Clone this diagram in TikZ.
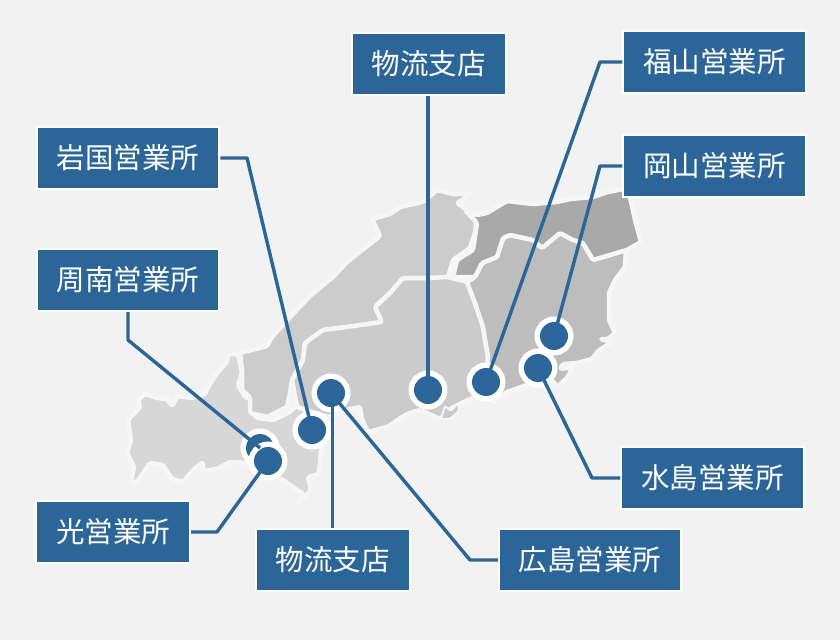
\documentclass[tikz,border=0pt]{standalone}
\usepackage{fontspec}
\newfontfamily\cjk{Noto Sans CJK JP}
\definecolor{sea}{HTML}{F2F2F2}
\definecolor{coast}{HTML}{F6F6F6}
\definecolor{navy}{HTML}{2C6699}
\definecolor{yamaguchi}{HTML}{D7D7D7}
\definecolor{shimane}{HTML}{CCCCCC}
\definecolor{hiroshima}{HTML}{CBCBCB}
\definecolor{okayama}{HTML}{BDBDBD}
\definecolor{tottori}{HTML}{A9A9A9}
\begin{document}
\begin{tikzpicture}[x=1pt,y=-1pt,
    area/.style = {draw=coast, line width=4.5pt, line join=round, rounded corners=1.5pt},
    office/.style = {draw=white, line width=2pt, fill=navy, text=white, minimum height=62pt, inner xsep=20pt, font=\cjk\fontsize{28.5pt}{30pt}\selectfont},
    dot/.style = {circle, preaction={draw=white, line width=11pt}, fill=navy, minimum size=28pt, inner sep=0pt, outer sep=0pt},
    link/.style = {draw=navy, line width=3.4pt, line join=round}]
    \useasboundingbox[fill=sea] (0,0) rectangle (840,640);

    % map
    \fill[area, fill=yamaguchi] (128,420) -- (140,407) -- (138,400) -- (145,394) -- (157,398) -- (167,399) -- (172,406) -- (178,396) -- (192,398) -- (205,394) -- (208,387) -- (217,373) -- (227,362) -- (228,354) -- (238,354) -- (242,373) -- (238,385) -- (245,397) -- (253,400) -- (250,410) -- (257,418) -- (273,420) -- (290,412) -- (297,405) -- (322,420) -- (321,450) -- (319,474) -- (308,477) -- (311,490) -- (297,505) -- (303,493) -- (297,490) -- (283,480) -- (267,473) -- (253,463) -- (230,462) -- (217,469) -- (203,471) -- (203,462) -- (193,470) -- (183,482) -- (172,479) -- (163,465) -- (150,463) -- (137,482) -- (131,482) -- (134,467) -- (127,453) -- (131,440) -- cycle;
    \fill[area, fill=shimane] (240,353) -- (267,346) -- (272,337) -- (293,314) -- (310,296) -- (333,277) -- (347,262) -- (380,236) -- (372,219) -- (390,214) -- (400,207) -- (423,202) -- (437,190) -- (453,194) -- (472,194) -- (457,203) -- (477,217) -- (475,233) -- (470,248) -- (453,260) -- (448,277) -- (430,278) -- (403,278) -- (390,293) -- (375,307) -- (382,322) -- (347,327) -- (323,330) -- (305,343) -- (303,360) -- (292,380) -- (290,393) -- (287,407) -- (267,417) -- (250,413) -- (250,397) -- (242,390) -- (242,370) -- cycle;
    \fill[area, fill=hiroshima] (305,343) -- (323,330) -- (347,327) -- (382,322) -- (375,307) -- (390,293) -- (403,278) -- (430,278) -- (448,277) -- (467,282) -- (475,303) -- (483,327) -- (488,357) -- (490,380) -- (483,395) -- (470,399) -- (450,409) -- (440,419) -- (420,410) -- (407,414) -- (387,427) -- (368,432) -- (362,419) -- (360,407) -- (350,409) -- (328,417) -- (297,407) -- (292,380) -- (303,360) -- cycle;
    \fill[area, fill=okayama] (467,282) -- (475,277) -- (482,263) -- (497,257) -- (503,238) -- (510,235) -- (533,240) -- (542,248) -- (560,233) -- (573,240) -- (583,243) -- (593,260) -- (610,255) -- (626,247) -- (625,267) -- (615,280) -- (609,293) -- (609,320) -- (615,333) -- (608,339) -- (600,339) -- (612,342) -- (598,351) -- (592,359) -- (577,363) -- (563,364) -- (560,369) -- (573,367) -- (567,378) -- (557,387) -- (553,381) -- (543,381) -- (527,385) -- (507,392) -- (493,402) -- (485,393) -- (488,357) -- (483,327) -- (475,303) -- cycle;
    \fill[area, fill=tottori] (465,210) -- (477,215) -- (487,213) -- (507,201) -- (533,204) -- (557,202) -- (570,199) -- (593,197) -- (608,192) -- (628,188) -- (635,220) -- (641,242) -- (627,250) -- (610,255) -- (593,260) -- (583,243) -- (573,240) -- (560,233) -- (542,248) -- (533,240) -- (510,235) -- (503,238) -- (497,257) -- (482,263) -- (475,277) -- (453,277) -- (457,260) -- (473,250) -- (477,223) -- cycle;
    \fill[area, fill=hiroshima, line width=2pt] (441,419) -- (445,406) -- (451,411) -- (458,403) -- (459,411) -- (450,419) -- cycle;

    % offices
    \node[dot] (logiTopDot) at (428,390) {};
    \node[dot] (fukuyamaDot) at (486,382) {};
    \node[dot] (okayamaDot) at (554,336) {};
    \node[dot] (mizushimaDot) at (538,368) {};
    \node[dot] (iwakuniDot) at (312,430) {};
    \node[dot] (hiroshimaDot) at (331,393) {};
    \node[dot] (shunanDot) at (260,448) {};
    \node[dot] (hikariDot) at (268,461) {};

    \node[office] (logiTop) at (428.5,64) {物流支店};
    \node[office] (fukuyama) at (714.5,62) {福山営業所};
    \node[office] (okayama) at (714.5,166) {岡山営業所};
    \node[office] (iwakuni) at (128,158) {岩国営業所};
    \node[office] (shunan) at (128,280) {周南営業所};
    \node[office] (hikari) at (113,532) {光営業所};
    \node[office] (logiBottom) at (332.5,560) {物流支店};
    \node[office] (hiroshima) at (590,560) {広島営業所};
    \node[office] (mizushima) at (712.5,478) {水島営業所};

    \coordinate (fukuyamaBend) at (600,62);
    \coordinate (okayamaBend) at (600,166);
    \coordinate (iwakuniBend) at (247,158);
    \coordinate (shunanBend) at (128,340);
    \coordinate (hikariBend) at (217,532);
    \coordinate (hiroshimaBend) at (470,560);
    \coordinate (mizushimaBend) at (592,478);

    \draw[link] (logiTop.south -| logiTopDot) -- (logiTopDot.center);
    \draw[link] (fukuyama) -- (fukuyamaBend) -- (fukuyamaDot.center);
    \draw[link] (okayama) -- (okayamaBend) -- (okayamaDot.center);
    \draw[link] (iwakuni) -- (iwakuniBend) -- (iwakuniDot.center);
    \draw[link] (shunan) -- (shunanBend) -- (shunanDot.center);
    \draw[link] (hikari) -- (hikariBend) -- (hikariDot.center);
    \draw[link] (logiBottom.north) -- (logiBottom.north |- hiroshimaDot);
    \draw[link] (hiroshima) -- (hiroshimaBend) -- (hiroshimaDot.center);
    \draw[link] (mizushima) -- (mizushimaBend) -- (mizushimaDot.center);
\end{tikzpicture}
\end{document}
